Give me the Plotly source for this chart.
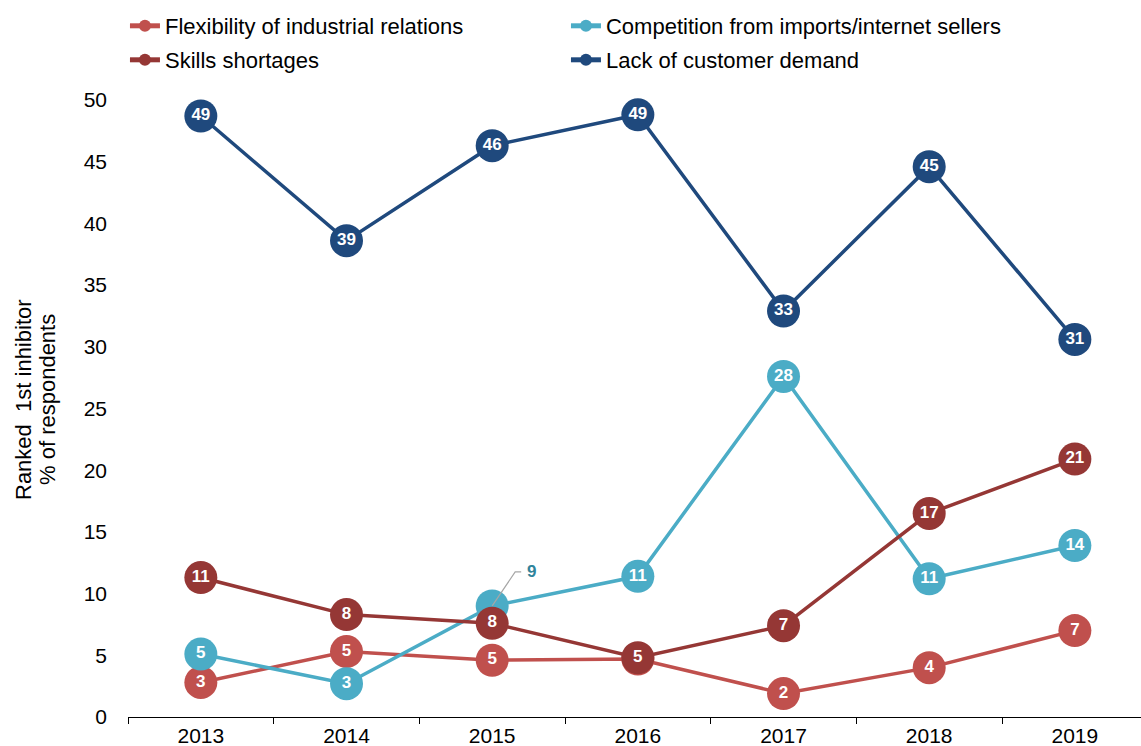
import plotly.graph_objects as go

years = [2013, 2014, 2015, 2016, 2017, 2018, 2019]
flexibility = [2.8, 5.3, 4.6, 4.7, 1.9, 4.0, 7.0]
competition = [5.1, 2.7, 9.0, 11.4, 27.6, 11.2, 13.9]
skills = [11.3, 8.3, 7.6, 4.8, 7.4, 16.5, 20.9]
lack_demand = [48.7, 38.6, 46.3, 48.8, 32.9, 44.6, 30.6]
y_ticks = [0, 5, 10, 15, 20, 25, 30, 35, 40, 45, 50]

names = ["Flexibility of industrial relations", "Competition from imports/internet sellers",
         "Skills shortages", "Lack of customer demand"]
colors = ["#C0504D", "#4BACC6", "#953735", "#1F497D"]
legends = ["legend", "legend", "legend2", "legend2"]
values = [flexibility, competition, skills, lack_demand]

FONT = "Liberation Sans, Arial, sans-serif"


def lab(v):
    return str(int(v + 0.5))


fig = go.Figure()
for i, (name, vals, col, lg) in enumerate(zip(names, values, colors, legends)):
    texts = [lab(v) for v in vals]
    if i == 1:
        texts[2] = ""  # shown as outside callout
    fig.add_trace(go.Scatter(
        x=years, y=vals, name=name, mode="lines+markers+text",
        line=dict(color=col, width=3.5),
        marker=dict(color=col, size=33),
        text=texts, textposition="middle center",
        textfont=dict(color="white", size=17, family=FONT, weight="bold"),
        legend=lg, cliponaxis=False,
    ))

# callout for competition 2015
fig.add_shape(type="path", xref="x", yref="y", xsizemode="pixel", ysizemode="pixel",
              xanchor=years[2], yanchor=competition[2],
              path="M0,0 L23,34 L29,34", line=dict(color="#A6A6A6", width=1.2))
fig.add_annotation(x=years[2], y=competition[2], text="<b>9</b>", showarrow=False,
                   xanchor="left", yanchor="middle", xshift=33, yshift=34,
                   font=dict(color="#31849B", size=17, family=FONT))

# y title (two lines, tight spacing)
fig.add_annotation(xref="paper", yref="paper", x=(23 - 128) / 1013, y=(717 - 400) / 617,
                   text="Ranked  1st inhibitor", showarrow=False, textangle=-90,
                   xanchor="center", yanchor="middle",
                   font=dict(size=22, color="black", family=FONT))
fig.add_annotation(xref="paper", yref="paper", x=(47 - 128) / 1013, y=(717 - 400) / 617,
                   text="% of respondents", showarrow=False, textangle=-90,
                   xanchor="center", yanchor="middle",
                   font=dict(size=22, color="black", family=FONT))

leg_common = dict(orientation="h", xanchor="left", yanchor="middle", entrywidth=396,
                  font=dict(size=22, color="black", family=FONT), itemsizing="constant",
                  bgcolor="rgba(0,0,0,0)", tracegroupgap=0)
fig.update_layout(
    width=1141, height=746,
    margin=dict(l=128, r=0, t=100, b=29),
    paper_bgcolor="white", plot_bgcolor="white",
    font=dict(family=FONT, color="black"),
    showlegend=True,
    legend=dict(x=-0.003, y=1 + 74 / 617, **leg_common),
    legend2=dict(x=-0.003, y=1 + 40 / 617, **leg_common),
    xaxis=dict(range=[2012.5, 2019.454], tickvals=years, ticktext=[str(y) for y in years],
               ticks="", showline=True, linecolor="black", linewidth=1, showgrid=False,
               zeroline=False, tickfont=dict(size=21, color="black"), automargin=False,
               minor=dict(tick0=2012.5, dtick=1, ticks="outside", ticklen=6, tickcolor="black", tickwidth=1)),
    yaxis=dict(range=[0, 50], tickvals=y_ticks, showline=False, showgrid=False, zeroline=False,
               ticks="", ticklabelstandoff=20, automargin=False,
               tickfont=dict(size=21, color="black")),
)

fig.write_html("out.html", config={"displayModeBar": False},
               post_script="document.body.style.margin='0';document.body.style.overflow='hidden';")
